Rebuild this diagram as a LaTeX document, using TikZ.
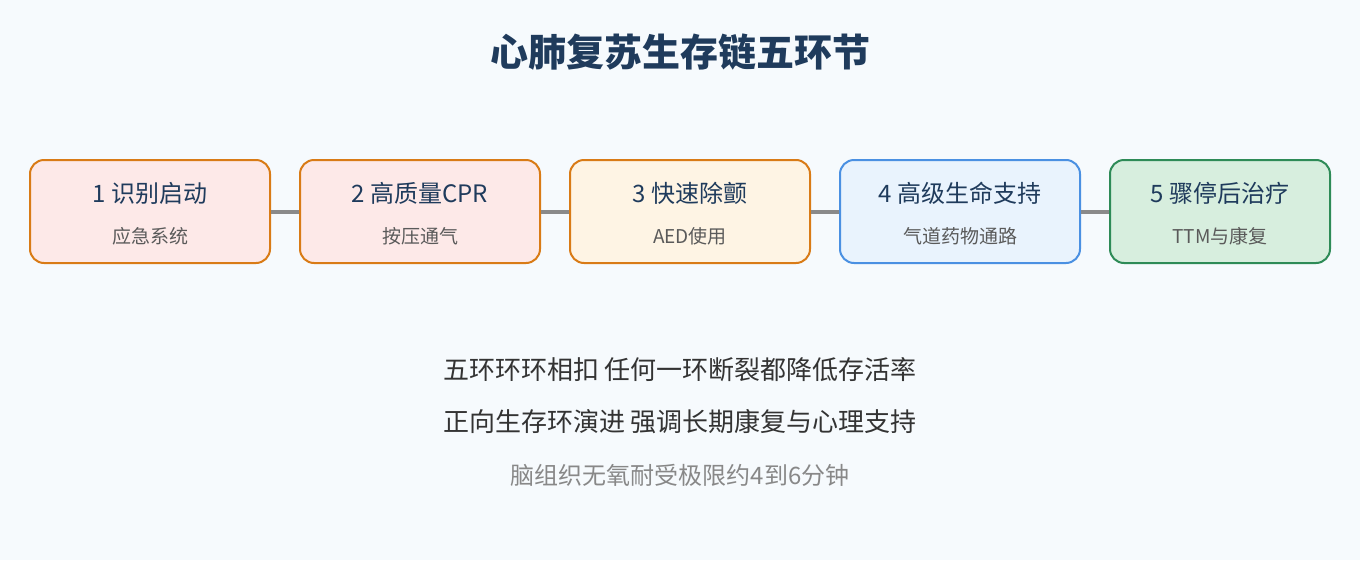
\documentclass[tikz,border=0pt]{standalone}
\usepackage{fontspec}
\setmainfont{Noto Sans CJK SC}
\definecolor{pagebg}{HTML}{F6FAFD}
\definecolor{titleblue}{HTML}{1F3B5C}
\definecolor{subgray}{HTML}{5A5A5A}
\definecolor{notegray}{HTML}{888888}
\definecolor{linkgray}{HTML}{8A8A8A}
\definecolor{orangeline}{HTML}{D97B16}
\definecolor{blueline}{HTML}{4A90E2}
\definecolor{greenline}{HTML}{2E8B57}
\definecolor{pinkfill}{HTML}{FDE9E8}
\definecolor{creamfill}{HTML}{FEF4E4}
\definecolor{skyfill}{HTML}{E9F3FD}
\definecolor{mintfill}{HTML}{D7EEDE}
\tikzset{
  chainbox/.style={draw, line width=2pt, rounded corners=14pt, minimum height=103pt, inner sep=0pt},
  headtext/.style={text=titleblue, font=\fontsize{24}{28}\selectfont},
  subtext/.style={text=subgray, font=\fontsize{19}{22}\selectfont},
  notetext/.style={text=black!80, font=\fontsize{26}{30}\selectfont},
  link/.style={draw=linkgray, line width=4pt}
}
\begin{document}
\begin{tikzpicture}[x=1pt,y=-1pt]
\fill[pagebg] (0,0) rectangle (1360,560);
\useasboundingbox (0,0) rectangle (1360,560);
\node[text=titleblue, font=\fontsize{38}{44}\selectfont\bfseries] (title) at (680,52) {心肺复苏生存链五环节};
% the five links
\node[chainbox, minimum width=240pt, draw=orangeline, fill=pinkfill] (b1) at (150,211.5) {};
\node[chainbox, minimum width=240pt, draw=orangeline, fill=pinkfill] (b2) at (420,211.5) {};
\node[chainbox, minimum width=240pt, draw=orangeline, fill=creamfill] (b3) at (690,211.5) {};
\node[chainbox, minimum width=240pt, draw=blueline, fill=skyfill] (b4) at (960,211.5) {};
\node[chainbox, minimum width=220pt, draw=greenline, fill=mintfill] (b5) at (1220,211.5) {};
\draw[link] (b1.east) -- (b2.west)
            (b2.east) -- (b3.west)
            (b3.east) -- (b4.west)
            (b4.east) -- (b5.west);
\node[headtext] (h1) at ([yshift=18pt]b1.center) {1 识别启动};
\node[subtext]  (s1) at ([yshift=-25pt]b1.center) {应急系统};
\node[headtext] (h2) at ([yshift=18pt]b2.center) {2 高质量CPR};
\node[subtext]  (s2) at ([yshift=-25pt]b2.center) {按压通气};
\node[headtext] (h3) at ([yshift=18pt]b3.center) {3 快速除颤};
\node[subtext]  (s3) at ([yshift=-25pt]b3.center) {AED使用};
\node[headtext] (h4) at ([yshift=18pt]b4.center) {4 高级生命支持};
\node[subtext]  (s4) at ([yshift=-25pt]b4.center) {气道药物通路};
\node[headtext] (h5) at ([yshift=18pt]b5.center) {5 骤停后治疗};
\node[subtext]  (s5) at ([yshift=-25pt]b5.center) {TTM与康复};
% notes below
\node[notetext] (n1) at (680,370) {五环环环相扣 任何一环断裂都降低存活率};
\node[notetext] (n2) at (680,422) {正向生存环演进 强调长期康复与心理支持};
\node[text=notegray, font=\fontsize{24}{28}\selectfont] (n3) at (680,475) {脑组织无氧耐受极限约4到6分钟};
\end{tikzpicture}
\end{document}
